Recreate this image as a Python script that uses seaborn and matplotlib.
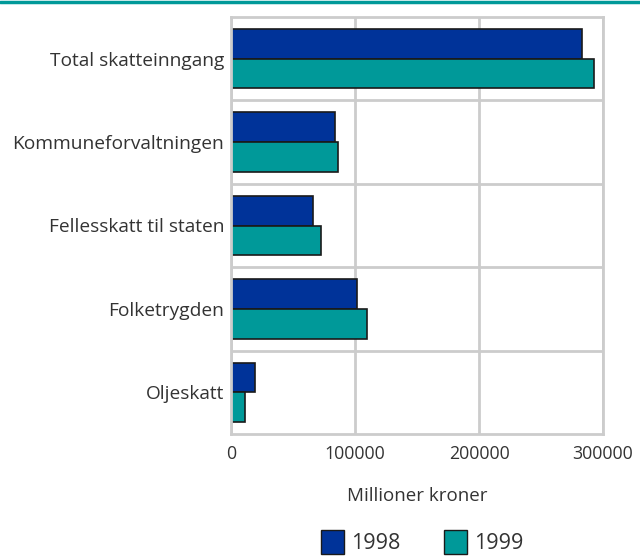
import pandas as pd
import matplotlib.pyplot as plt
import seaborn as sns
from matplotlib.patches import Patch

categories = ["Total skatteinngang", "Kommuneforvaltningen", "Fellesskatt til staten",
              "Folketrygden", "Oljeskatt"]
years = ["1998", "1999"]
values_1998 = [283000, 84000, 66000, 102000, 19500]
values_1999 = [293000, 86000, 72500, 110000, 11500]
xticks = [0, 100000, 200000, 300000]

df = pd.DataFrame({
    "Kategori": categories * 2,
    "Ar": [years[0]] * len(categories) + [years[1]] * len(categories),
    "Verdi": values_1998 + values_1999,
})

sns.set_style("white")
plt.rcParams['font.family'] = ['Open Sans', 'DejaVu Sans']
colors = {"1998": "#003399", "1999": "#009999"}
grey = "#cccccc"
txt = "#333333"

fig = plt.figure(figsize=(6.4, 5.58), dpi=100)
ax = fig.add_axes([231/640, 1 - 434/558, (603 - 231)/640, (434 - 17)/558])

sns.barplot(data=df, y="Kategori", x="Verdi", hue="Ar", palette=colors,
            order=categories, hue_order=years, width=0.71, saturation=1,
            edgecolor="#1a1a1a", linewidth=1.2, legend=False, ax=ax)

ax.set_xlim(0, 300000)
ax.set_ylim(len(categories) - 0.5, -0.5)
ax.set_xticks(xticks)
ax.set_xticklabels([str(t) for t in xticks])
ax.set_yticks([i - 0.5 for i in range(1, len(categories))], minor=True)
ax.grid(True, axis="x", color=grey, linewidth=2)
ax.grid(True, axis="y", which="minor", color=grey, linewidth=2)
ax.set_axisbelow(True)
for s in ax.spines.values():
    s.set_color(grey)
    s.set_linewidth(2)
ax.tick_params(axis="both", which="both", length=0, colors=txt)
ax.tick_params(axis="y", labelsize=13.8, pad=5)
ax.tick_params(axis="x", labelsize=12.8, pad=8)
ax.set_ylabel("")
ax.set_xlabel("Millioner kroner", fontsize=13.5, color=txt, labelpad=17)

handles = [Patch(facecolor=colors[y], edgecolor="#1a1a1a", label=y) for y in years]
fig.legend(handles=handles, loc="lower center", bbox_to_anchor=(0.66, -0.028), ncol=2,
           frameon=False, fontsize=15.5, handlelength=1.07, handleheight=1.3,
           columnspacing=2.0, handletextpad=0.33, labelcolor=txt)

fig.add_artist(plt.Line2D([0, 1], [1 - 2/558, 1 - 2/558], color="#009999", linewidth=2.5,
                          transform=fig.transFigure))

fig.savefig("out.png", dpi=100)
